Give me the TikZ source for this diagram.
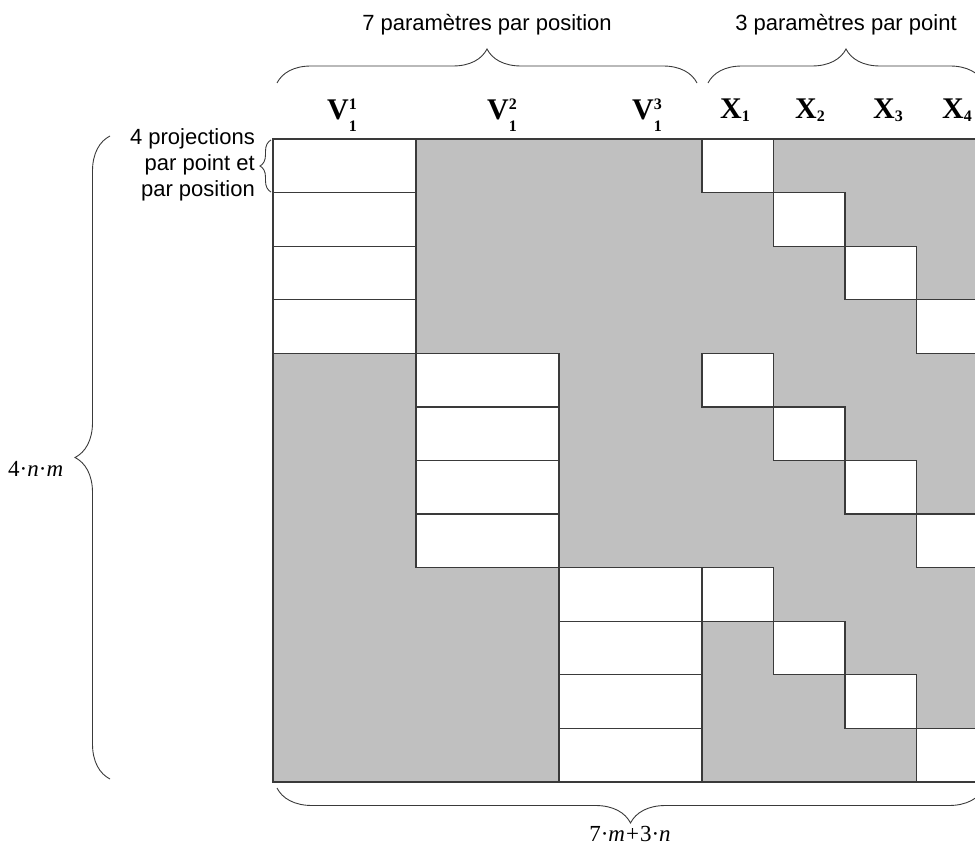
\documentclass[tikz,border=0pt]{standalone}
\usepackage{fontspec}
\setmainfont{Liberation Sans}
\newfontfamily\tms{Liberation Serif}
\usetikzlibrary{decorations.pathreplacing}
\definecolor{cellgrey}{HTML}{C0C0C0}
\definecolor{lineclr}{HTML}{3A3A3A}
\newcommand\lblVX[3]{{\tms\bfseries\fontsize{30}{32}\selectfont #1\raisebox{-12pt}{\fontsize{16}{16}\selectfont\vbox{\baselineskip=22pt\lineskiplimit=-20pt\hbox{#2}\hbox{#3}}}}}
\newcommand\lblX[2]{{\tms\bfseries\fontsize{30}{32}\selectfont #1\raisebox{-3pt}{\fontsize{16}{16}\selectfont #2}}}
\tikzset{
  cellline/.style={draw=lineclr, line width=1.2pt},
  whitecell/.style={cellline, fill=white},
  greyarea/.style={cellline, fill=cellgrey},
  bracedeco/.style={draw=lineclr, line width=0.9pt, decorate, decoration={brace, amplitude=#1}},
  annot/.style={inner sep=0pt, font=\fontsize{22}{26}\selectfont},
  mathlbl/.style={inner sep=0pt, font=\tms\fontsize{23}{26}\selectfont},
  collbl/.style={inner sep=0pt, anchor=base},
}
\begin{document}
\begin{tikzpicture}[x=1pt, y=-1pt]
\useasboundingbox (0,0) rectangle (975,850);
\clip (0,0) rectangle (975,850);
\pgfmathsetmacro{\rh}{643/12}
% grey matrix
\path[greyarea] (273,139) rectangle (988,782);
% white cells
\foreach \b in {0,1,2}{
  \foreach \r in {0,1,2,3}{
    \pgfmathsetmacro{\yt}{139+(4*\b+\r)*\rh}
    \pgfmathsetmacro{\yb}{\yt+\rh}
    \pgfmathsetmacro{\vl}{273+143*\b}
    \pgfmathsetmacro{\vr}{\vl+143}
    \pgfmathsetmacro{\xl}{702+71.5*\r}
    \pgfmathsetmacro{\xr}{\xl+71.5}
    \path[whitecell] (\vl,\yt) rectangle (\vr,\yb);
    \path[whitecell] (\xl,\yt) rectangle (\xr,\yb);
  }
}
% top labels
\node[annot] (t7) at (487,25) {7 paramètres par position};
\node[annot] (t3) at (846,25) {3 paramètres par point};
\coordinate (b1a) at (277,83);
\coordinate (b1b) at (697,83);
\coordinate (b2a) at (708,83);
\coordinate (b2b) at (984,83);
\draw[bracedeco=34] (b1a) -- (b1b);
\draw[bracedeco=34] (b2a) -- (b2b);
% column labels
\node[collbl] (v1) at (342,120) {\lblVX{V}{1}{1}};
\node[collbl] (v2) at (502,120) {\lblVX{V}{2}{1}};
\node[collbl] (v3) at (647,120) {\lblVX{V}{3}{1}};
\node[collbl] (x1) at (735,119) {\lblX{X}{1}};
\node[collbl] (x2) at (810,119) {\lblX{X}{2}};
\node[collbl] (x3) at (888,119) {\lblX{X}{3}};
\node[collbl] (x4) at (957,119) {\lblX{X}{4}};
% left small brace and text
\node[annot, anchor=east, align=right] (proj) at (255,165) {4 projections\\par point et\\par position};
\coordinate (sba) at (271,192);
\coordinate (sbb) at (271,140);
\draw[bracedeco=11] (sba) -- (sbb);
% big left brace
\coordinate (lba) at (110,779);
\coordinate (lbb) at (110,136);
\draw[bracedeco=35] (lba) -- (lbb);
\node[mathlbl, anchor=west] (nm) at (8,469) {4·\textit{n}·\textit{m}};
% bottom brace
\coordinate (bba) at (984,788);
\coordinate (bbb) at (277,788);
\draw[bracedeco=35] (bba) -- (bbb);
\node[mathlbl] (mn) at (630,834) {7·\textit{m}\kern1pt+\kern1pt3·\textit{n}};
\end{tikzpicture}
\end{document}
